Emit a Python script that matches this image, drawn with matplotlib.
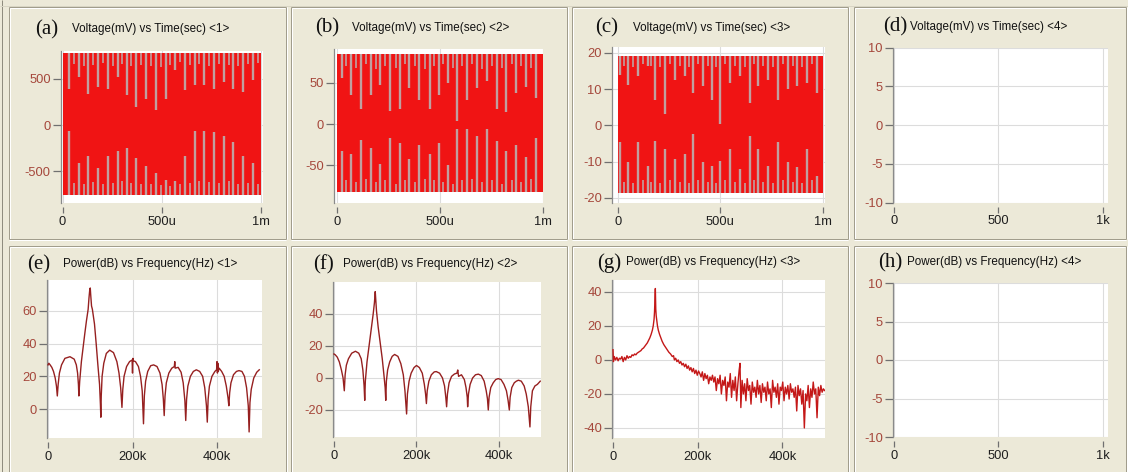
import matplotlib
matplotlib.use("Agg")
import matplotlib.pyplot as plt
from matplotlib.lines import Line2D

plt.rcParams['font.family'] = ['Liberation Sans', 'DejaVu Sans']

# ------------------------------------------------------------------ data
# ---- time-domain panels: record span (microseconds), signal envelope (mV)
t_span_us = [0, 1000]

a_peak = [-752, 772]
a_long_us = [33, 84, 130, 181, 231, 281, 323, 370, 423, 470, 520, 568, 615, 665, 712, 762, 813, 861, 910, 958]
a_long_top = [391, 518, 337, 409, 391, 518, 319, 192, 275, 156, 283, 591, 373, 428, 428, 391, 464, 391, 355, 482]
a_long_bot = [-62, -406, -333, -460, -333, -279, -243, -351, -442, -514, -587, -605, -333, -62, -62, -80, -116, -188, -333, -406]
a_short_us = [58, 107, 155, 206, 256, 302, 346, 396, 446, 495, 544, 591, 640, 688, 737, 787, 837, 885, 934, 983]
a_short_top = [660, 640, 650, 670, 640, 660, 630, 650, 640, 620, 650, 680, 650, 660, 640, 660, 650, 640, 660, 670]
a_short_bot = [-620, -640, -610, -630, -620, -600, -620, -640, -630, -650, -660, -640, -620, -600, -610, -620, -600, -630, -620, -640]

b_peak = [-82, 84]
b_long_us = [21, 65, 114, 163, 209, 258, 307, 351, 400, 449, 494, 538, 584, 633, 682, 727, 776, 824, 873, 918, 967]
b_long_top = [56, 35, 18, 35, 47, 16, 18, 43, 29, 18, 35, 50, 4, 29, 43, 52, 18, 14, 37, 45, 31]
b_long_bot = [-33, -36, -19, -29, -48, -17, -23, -42, -25, -36, -23, -50, -6, -6, -14, -6, -21, -33, -25, -40, -17]
b_short_us = [43, 90, 139, 186, 234, 283, 329, 376, 425, 472, 516, 561, 609, 658, 705, 752, 800, 849, 896, 943]
b_short_top = [70, 68, 72, 66, 70, 68, 72, 70, 66, 70, 72, 68, 70, 72, 66, 70, 68, 72, 70, 68]
b_short_bot = [-68, -70, -66, -70, -68, -72, -68, -70, -66, -68, -70, -72, -68, -66, -70, -68, -72, -68, -70, -66]

c_peak = [-18.6, 19]
c_long_us = [10, 50, 99, 145, 180, 229, 278, 327, 367, 416, 457, 498, 546, 595, 644, 685, 733, 782, 831, 872, 920, 969]
c_long_top = [14, 11.2, 13.5, 16.3, 7.1, 3, 12.6, 13.5, 9, 10.8, 7.1, 0.3, 11.7, 13.5, 6.2, 10.8, 12.6, 7.1, 9.9, 10.8, 11.7, 9]
c_long_bot = [-4.7, -10.2, -4.7, -11.1, -4.3, -6.6, -9.3, -7.9, -2.5, -10.2, -11.1, -9.8, -6.6, -12, -2.9, -6.6, -11.1, -4.7, -10.2, -11.6, -6.6, -13.9]
c_short_us = [30, 75, 122, 163, 205, 254, 303, 347, 392, 437, 478, 522, 571, 620, 665, 709, 758, 807, 852, 896, 945]
c_short_top = [16.5, 16, 17, 16.5, 16, 17, 16.5, 16, 17, 16.5, 16, 17, 16.5, 16, 17, 16.5, 16, 17, 16.5, 16, 17]
c_short_bot = [-15.5, -16, -15, -15.5, -16, -15, -15.5, -16, -15, -15.5, -16, -15, -15.5, -16, -15, -15.5, -16, -15, -15.5, -16, -15]

# ---- frequency-domain panels (frequency in kHz, power in dB)
e_freq_k = [0, 2, 5, 9, 13, 17, 20, 22,
            24, 27, 32, 40, 52, 62, 67, 70, 72, 73,
            75, 79, 83, 87, 91, 95, 97, 99, 100, 101, 103, 105, 110, 114, 118, 122, 124, 125,
            126, 128, 132, 138, 146, 155, 163, 168, 172, 175,
            177, 180, 186, 193, 199, 200, 201, 202, 207, 214, 219, 223, 226,
            228, 231, 236, 243, 250, 258, 265, 270, 273, 275,
            277, 280, 286, 293, 299, 300, 301, 308, 315, 320, 324, 326,
            328, 331, 337, 344, 351, 359, 366, 371, 375, 377,
            379, 382, 388, 395, 399, 400, 401, 402, 403, 405, 411, 417, 422, 426, 428,
            430, 433, 439, 446, 452, 459, 465, 470, 474, 476,
            478, 481, 487, 494, 500]
e_db = [27, 28, 27, 25.5, 23, 19, 14, 8,
        15, 22, 27, 31, 32, 30.5, 27, 22, 15, 8,
        17, 29, 37.5, 46, 54, 61, 68, 73.5, 74, 70, 63, 61, 52, 40, 27, 15, 3, -5,
        8, 20, 28, 34, 36, 34.5, 29, 22, 13, 1,
        12, 20, 26, 29, 30, 22, 31, 29.5, 29, 26, 20, 11, -9,
        8, 17, 23, 26.5, 27, 26, 22, 15, 6, -4,
        8, 16, 22, 25, 26, 29, 25, 25.5, 22.5, 16, 5, -7,
        6, 14, 20, 23, 24, 23, 20, 13, 2, -8,
        6, 14, 20, 23, 24, 29, 22, 28, 23, 25, 23, 20, 14, 7, 2,
        10, 16, 21, 23, 23.5, 23, 20, 13, 2, -14,
        4, 12, 19, 22.5, 24]

f_freq_k = [0, 3, 8, 13, 18, 22, 25,
            27, 30, 35, 43, 52, 60, 66, 70, 73, 74.5,
            76, 80, 85, 90, 95, 98, 100, 101, 103, 107, 112, 117, 121, 124, 125.5,
            127, 130, 135, 141, 147, 155, 162, 168, 172, 176,
            178, 182, 187, 194, 200, 207, 214, 219, 222, 224,
            226, 230, 236, 243, 248, 256, 263, 268, 271, 273,
            275, 279, 285, 292, 298, 300, 302, 309, 316, 320, 323, 324,
            326, 330, 336, 343, 350, 357, 364, 369, 372, 374,
            376, 380, 386, 392, 398, 405, 412, 418, 422, 425,
            427, 431, 437, 442, 447, 454, 461, 466, 471, 475,
            477, 481, 487, 493, 500]
f_db = [15, 14.5, 13, 10, 5, 0, -8,
        2, 8, 12, 15.5, 16.7, 15.5, 12, 5, -5, -14,
        -2, 10, 20, 30, 40, 47, 54, 50, 42, 32, 22, 12, 2, -6, -14,
        -2, 5, 10, 13.5, 14.7, 13.5, 9, 2, -8, -22.5,
        -10, -2, 3, 6.5, 7.8, 6.5, 3, -4, -10, -16,
        -8, -2, 2, 3.8, 4, 3, 0, -5, -12, -18,
        -10, -3, 1, 2.5, 3, 5, 1, 2, -1, -6, -12, -18,
        -10, -4, 0, 2, 2.4, 1.5, -2, -8, -13, -20,
        -12, -6, -3, -1, -0.4, -1, -4, -8, -14, -20,
        -12, -6, -3, -2, -1.4, -2, -5, -10, -18, -30.6,
        -18, -8, -5, -4, -2]

g_freq_k = [0, 1, 3, 6, 9, 12, 15, 18, 21, 24, 27, 30, 33, 36, 39, 42, 45, 48, 51, 54, 57, 60,
            63, 66, 69, 72, 75, 78, 81, 84, 87, 90, 93, 95, 97, 98, 99, 100, 101, 102, 103, 105,
            107, 110, 113, 116, 120, 124, 128, 132, 136, 140, 143, 145, 148, 151, 154, 157, 160,
            163, 166, 169, 172, 175, 178, 181, 184, 187, 190, 193, 196, 199, 202, 205, 208, 211,
            214, 217, 220, 223, 226, 229, 232, 235, 238, 241, 244, 247, 250, 253, 256, 259, 262,
            265, 268, 271, 274, 277, 280, 283, 286, 289, 292, 295, 298, 300, 302, 305, 308, 311,
            314, 317, 320, 323, 326, 329, 332, 335, 338, 341, 344, 347, 350, 353, 356, 359, 362,
            365, 368, 371, 374, 377, 380, 383, 386, 389, 392, 395, 398, 401, 404, 407, 410, 413,
            416, 419, 422, 425, 428, 431, 434, 437, 440, 443, 446, 449, 452, 455, 458, 461, 464,
            467, 470, 473, 476, 479, 482, 485, 488, 491, 494, 497, 500]
g_db = [6, -1, 2, 0, 1.5, -0.5, 1, 0.5, 2, -1, 1.5, 0, 2.5, 1, 2, 1.5, 3, 2.5, 3.5, 3, 4, 4.5,
        5, 5.5, 6.5, 7, 8, 9, 10, 11.5, 13, 15, 17.5, 20, 24, 28, 36, 42, 30, 26, 24, 20,
        17.5, 15, 13, 11, 9, 7.5, 6, 4.5, 3.5, 2, 2.5, 0, 1, -1, 0, -2, -1,
        -3, -2, -4, -2.5, -5, -3.5, -6, -4.5, -7, -5, -8, -6, -9, -6.5, -8, -10, -7,
        -12, -8, -11, -9, -14, -10, -12, -9, -13, -10, -18, -11, -14, -9, -20, -12, -15,
        -10, -24, -13, -16, -8, -22, -12, -18, -10, -24, -14, -6, -2, -28, -12, -20, -14,
        -24, -11, -18, -15, -26, -13, -19, -16, -22, -12, -20, -15, -25, -14, -19, -16, -24,
        -13, -20, -17, -28, -12, -19, -16, -22, -14, -26, -16, -18, -13, -24, -16, -20, -15,
        -23, -14, -19, -17, -22, -16, -30, -15, -21, -17, -26, -18, -40, -20, -24, -15, -28,
        -17, -22, -13, -20, -17, -34, -16, -21, -15, -19, -17, -18]

# ---- axis ticks / labels
time_ticks = [0, 500, 1000]
time_labels = ['0', '500u', '1m']
empty_ticks = [0, 500, 1000]
empty_labels = ['0', '500', '1k']
freq_ticks = [0, 200, 400]
freq_labels = ['0', '200k', '400k']

panel_letters = ['(a)', '(b)', '(c)', '(d)', '(e)', '(f)', '(g)', '(h)']
panel_titles = ['Voltage(mV) vs Time(sec) <1>', 'Voltage(mV) vs Time(sec) <2>',
                'Voltage(mV) vs Time(sec) <3>', 'Voltage(mV) vs Time(sec) <4>',
                'Power(dB) vs Frequency(Hz) <1>', 'Power(dB) vs Frequency(Hz) <2>',
                'Power(dB) vs Frequency(Hz) <3>', 'Power(dB) vs Frequency(Hz) <4>']

# ------------------------------------------------------------------ figure
W, H = 1128, 472
BG = '#ece9d8'
fig = plt.figure(figsize=(W / 100, H / 100), dpi=100)
fig.patch.set_facecolor(BG)

EDGE = '#a19d8c'
HILITE = '#ffffff'


def fline(x0, y0, x1, y1, color, lw=1.0):
    fig.add_artist(Line2D([x0 / W, x1 / W], [1 - y0 / H, 1 - y1 / H],
                          transform=fig.transFigure, color=color, lw=lw * 0.72,
                          solid_capstyle='butt'))


def frame(x0, y0, x1, y1):
    # etched (3-D) group-box border
    fline(x0, y0, x1, y0, EDGE)
    fline(x0, y0, x0, y1, EDGE)
    fline(x0 + 1, y0 + 1, x1 - 1, y0 + 1, HILITE)
    fline(x0 + 1, y0 + 1, x0 + 1, y1, HILITE)
    fline(x1, y0, x1, y1, EDGE)
    fline(x1 + 1, y0, x1 + 1, y1, HILITE)
    fline(x0, y1, x1, y1, EDGE)
    fline(x0, y1 + 1, x1, y1 + 1, HILITE)


# outer window edge
fline(2, 0, 2, H, '#8f8c7e')
fline(0, 6, W, 6, '#d8d5c4')
cols = [(9, 286), (291, 567), (572, 848), (854, 1126)]
rows = [(7, 239), (246, 480)]
for (ry0, ry1) in rows:
    for (cx0, cx1) in cols:
        frame(cx0, ry0, cx1, ry1)


def make_axes(rect, xlim, ylim, xticks, xlabels, yticks, ylabels):
    x0, y0, x1, y1 = rect
    ax = fig.add_axes([x0 / W, 1 - y1 / H, (x1 - x0) / W, (y1 - y0) / H])
    ax.set_facecolor('white')
    ax.set_xlim(xlim)
    ax.set_ylim(ylim)
    for s in ['top', 'right', 'bottom']:
        ax.spines[s].set_visible(False)
    ax.spines['left'].set_color('#8a8a8a')
    ax.spines['left'].set_linewidth(0.9)
    ax.spines['bottom'].set_position(('outward', 3))
    ax.set_xticks(xticks)
    ax.set_xticklabels(xlabels)
    ax.set_yticks(yticks)
    ax.set_yticklabels(ylabels)
    ax.tick_params(axis='x', direction='out', length=4.5, width=0.9, color='#707070',
                   pad=1.8, labelsize=9.3, labelcolor='#1e1e1e')
    ax.tick_params(axis='y', direction='out', length=5.5, width=0.9, color='#707070',
                   pad=1.8, labelsize=9.3, labelcolor='#a5473b')
    ax.grid(True, color='#dcdcdc', lw=0.8)
    ax.set_axisbelow(True)
    return ax


RED = '#f01414'
STRIPE = '#c0a0a0'


def draw_time(ax, peak, l_us, l_top, l_bot, s_us, s_top, s_bot):
    ax.fill_between(t_span_us, [peak[0]] * 2, [peak[1]] * 2, color=RED, lw=0, zorder=2)
    ax.vlines(l_us, l_top, peak[1], color=STRIPE, lw=1.7, zorder=3)
    ax.vlines(l_us, peak[0], l_bot, color=STRIPE, lw=1.7, zorder=3)
    ax.vlines(s_us, s_top, peak[1], color=STRIPE, lw=1.2, zorder=3)
    ax.vlines(s_us, peak[0], s_bot, color=STRIPE, lw=1.2, zorder=3)


# (a)
ax = make_axes((61, 51, 263, 203), (-7.6, 1010), (-839, 796), time_ticks, time_labels,
               [-500, 0, 500], ['-500', '0', '500'])
draw_time(ax, a_peak, a_long_us, a_long_top, a_long_bot, a_short_us, a_short_top, a_short_bot)
# (b)
ax = make_axes((334, 49, 543, 203), (-17, 1002.4), (-95.2, 90.4), time_ticks, time_labels,
               [-50, 0, 50], ['-50', '0', '50'])
draw_time(ax, b_peak, b_long_us, b_long_top, b_long_bot, b_short_us, b_short_top, b_short_bot)
# (c)
ax = make_axes((612, 47, 825, 203), (-29, 1010), (-21.4, 21.6), time_ticks, time_labels,
               [-20, -10, 0, 10, 20], ['-20', '-10', '0', '10', '20'])
draw_time(ax, c_peak, c_long_us, c_long_top, c_long_bot, c_short_us, c_short_top, c_short_bot)
# (d)
make_axes((893, 47.5, 1108, 202.5), (-4.8, 1024), (-10, 10), empty_ticks, empty_labels,
          [-10, -5, 0, 5, 10], ['-10', '-5', '0', '5', '10'])

LINE = '#962020'
# (e)
ax = make_axes((47, 280, 262, 438), (-2.4, 506.5), (-17.7, 78.9), freq_ticks, freq_labels,
               [0, 20, 40, 60], ['0', '20', '40', '60'])
ax.plot(e_freq_k, e_db, color=LINE, lw=1.0, zorder=3)
# (f)
ax = make_axes((333, 282, 541, 437), (-2.4, 501.8), (-36.9, 60), freq_ticks, freq_labels,
               [-20, 0, 20, 40], ['-20', '0', '20', '40'])
ax.plot(f_freq_k, f_db, color=LINE, lw=1.0, zorder=3)
# (g)
ax = make_axes((612, 280, 825, 438), (-2.4, 500.8), (-45.9, 47), freq_ticks, freq_labels,
               [-40, -20, 0, 20, 40], ['-40', '-20', '0', '20', '40'])
ax.plot(g_freq_k, g_db, color='#c41818', lw=1.0, zorder=3)
# (h)
make_axes((893, 283, 1108, 437), (-4.8, 1024), (-10, 10), empty_ticks, empty_labels,
          [-10, -5, 0, 5, 10], ['-10', '-5', '0', '5', '10'])

# panel captions
letter_pos = [(35, 30), (315, 28), (595, 28), (883, 27), (27, 265), (313, 265), (597, 263), (878, 263)]
title_pos = [(72, 29), (352, 28), (633, 28), (910, 27), (63, 264), (343, 264), (626, 262), (907, 262)]
for lab, (lx, ly), title, (tx, ty) in zip(panel_letters, letter_pos, panel_titles, title_pos):
    fig.text(lx / W, 1 - ly / H, lab, family='Liberation Serif', fontsize=15,
             ha='left', va='center', color='#111111')
    fig.text(tx / W, 1 - ty / H, title, fontsize=8.4, ha='left', va='center', color='#111111')

fig.savefig('out.png', dpi=100, facecolor=BG)
